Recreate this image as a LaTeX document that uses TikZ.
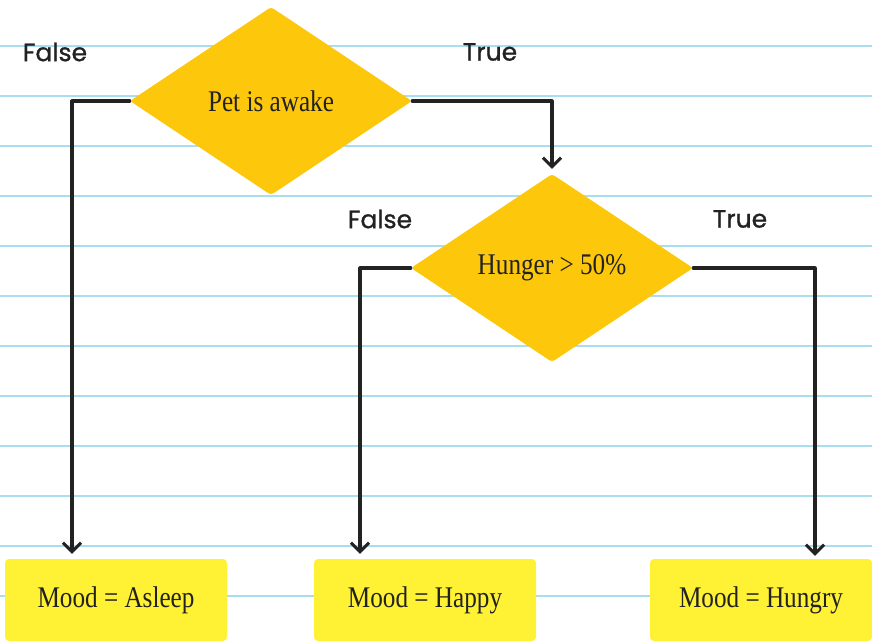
\documentclass[tikz,border=0pt]{standalone}
\usepackage{fontspec}
\usepackage{tikz}
\usetikzlibrary{shapes.geometric, positioning, arrows.meta}
\newfontfamily\handfont[FakeBold=1]{Poppins}
\newfontfamily\boxfont[FakeStretch=0.84]{Liberation Serif}
\definecolor{PaperLine}{HTML}{A9DDF1}
\definecolor{DiamondGold}{HTML}{FDC80C}
\definecolor{NoteYellow}{HTML}{FFF133}
\definecolor{InkBlack}{HTML}{222222}

\tikzset{
  decision/.style={diamond, fill=DiamondGold, minimum width=282pt, minimum height=188pt,
    inner sep=0pt, rounded corners=3pt, font=\boxfont\fontsize{30}{34}\selectfont, text=InkBlack},
  mood/.style={rectangle, fill=NoteYellow, minimum width=222pt, minimum height=82pt,
    rounded corners=4pt, font=\boxfont\fontsize{30}{34}\selectfont, text=InkBlack},
  branch/.style={font=\handfont\fontsize{25}{29}\selectfont, text=InkBlack},
  flow/.style={draw=InkBlack, line width=3.2pt, line cap=round, line join=round,
    -{Straight Barb[length=9pt, width=18pt, line width=3pt]}},
}

\begin{document}
\begin{tikzpicture}[x=1pt, y=-1pt]
    \useasboundingbox[fill=white] (0,0) rectangle (872,641);
    % ruled paper
    \foreach \k in {0,...,11}
      \draw[PaperLine, line width=2pt] (0,45.7+50*\k) -- (872,45.7+50*\k);

    \node[decision] (awake) at (271,101) {Pet is awake};
    \node[decision] (hunger) at (552,268) {Hunger > 50\%};

    \node[mood] (asleep) at (116,600) {Mood = Asleep};
    \node[mood] (happy) at (425,600) {Mood = Happy};
    \node[mood] (hungry) at (761,600) {Mood = Hungry};

    \node[branch] (awakeno) at (55,52) {False};
    \node[branch] (awakeyes) at (490,52) {True};
    \node[branch] (hungerno) at (380,219) {False};
    \node[branch] (hungeryes) at (740,219) {True};

    \draw[flow, shorten >=5pt] (awake.west) -| ([xshift=-44pt]asleep.north);
    \draw[flow, shorten >=5pt] (awake.east) -| (hunger.north);
    \draw[flow, shorten >=5pt] (hunger.west) -| ([xshift=-65pt]happy.north);
    \draw[flow, shorten >=3pt] (hunger.east) -| ([xshift=54pt]hungry.north);
\end{tikzpicture}
\end{document}
